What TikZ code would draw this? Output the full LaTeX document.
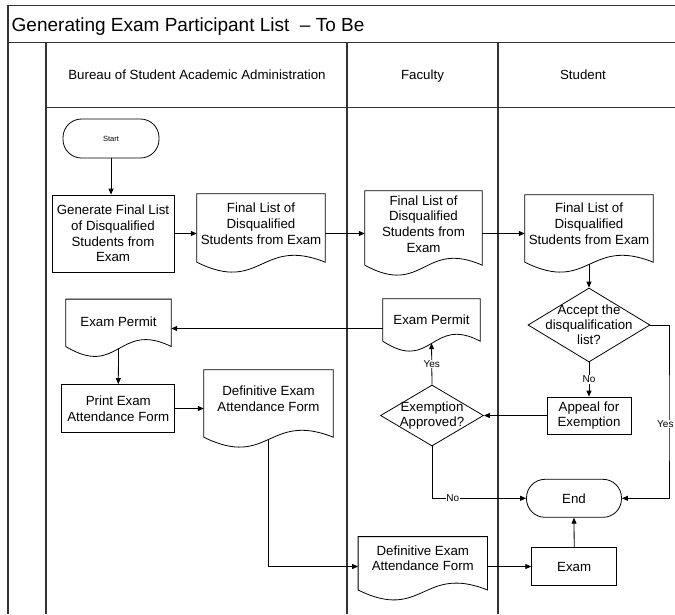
\documentclass[tikz,border=0pt]{standalone}
\usepackage{fontspec}
\setmainfont{Liberation Sans}
\usetikzlibrary{arrows.meta,shapes.geometric,calc}
\begin{document}
\begin{tikzpicture}[x=1pt,y=-1pt,
  frame/.style={line width=1.3pt, draw=black!80},
  shapeline/.style={draw=black, line width=0.8pt},
  ntext/.style={font=\fontsize{13.3}{15.8}\selectfont, align=center, inner sep=0pt},
  procbox/.style={shapeline, rectangle, inner sep=0pt, ntext},
  docbox/.style={rectangle, inner sep=0pt, draw=none},
  dia/.style={shapeline, diamond, inner sep=0pt},
  term/.style={shapeline, rectangle, rounded corners=18.5pt, inner sep=0pt},
  arr/.style={line width=0.8pt, -{Triangle[length=6pt,width=5pt]}},
  lbl/.style={font=\fontsize{10}{12}\selectfont, fill=white, inner sep=0.8pt},
  hdr/.style={font=\fontsize{13.3}{16}\selectfont, inner sep=0pt, anchor=base},
]
\useasboundingbox (0,0) rectangle (675,614);
\fill[white] (0,0) rectangle (675,614);

% frame / swimlanes
\draw[frame] (8,614) -- (8,5.7) -- (675,5.7);
\draw[frame] (8,42.7) -- (675,42.7);
\draw[frame] (46,42.7) -- (46,614);
\draw[frame] (46,107.3) -- (675,107.3);
\draw[frame] (347,42.7) -- (347,614);
\draw[frame] (498,42.7) -- (498,614);

\node[font=\fontsize{19}{22}\selectfont, anchor=base west, inner sep=0pt] (title) at (11.5,31.7) {Generating Exam Participant List\ \ – To Be};
\node[hdr] (hB) at (197,79) {Bureau of Student Academic Administration};
\node[hdr] (hF) at (422.5,79) {Faculty};
\node[hdr] (hS) at (583,79) {Student};

% nodes
\node[term, minimum width=96pt, minimum height=39pt, font=\fontsize{7.5}{9}\selectfont] (start) at (111,138.5) {Start};
\node[procbox, minimum width=122pt, minimum height=77pt] (gen) at (113,233.5) {Generate Final List\\of Disqualified\\Students from\\Exam};
\node[docbox, minimum width=128pt, minimum height=68pt, label={[ntext,name=d1T,yshift=4.5pt]center:{Final List of\\Disqualified\\Students from Exam}}] (d1) at (261,228) {};
\node[docbox, minimum width=117pt, minimum height=74pt, label={[ntext,name=d2T,yshift=4pt]center:{Final List of\\Disqualified\\Students from\\Exam}}] (d2) at (423.5,228) {};
\node[docbox, minimum width=128pt, minimum height=67pt, label={[ntext,name=d3T,yshift=4.5pt]center:{Final List of\\Disqualified\\Students from Exam}}] (d3) at (589,228.5) {};
\node[dia, minimum width=122pt, minimum height=74pt, label={[ntext,name=accT,font=\fontsize{13.3}{15}\selectfont]center:{Accept the\\disqualification\\list?}}] (acc) at (589,325) {};
\node[docbox, minimum width=97pt, minimum height=42pt, label={[ntext,name=d4T]center:{Exam Permit}}] (d4) at (431.5,320) {};
\node[docbox, minimum width=105pt, minimum height=47pt, label={[ntext,name=d5T,yshift=1pt]center:{Exam Permit}}] (d5) at (118.5,322.8) {};
\node[procbox, minimum width=113pt, minimum height=48pt] (print) at (118.3,408.5) {Print Exam\\Attendance Form};
\node[docbox, minimum width=129pt, minimum height=67pt, label={[ntext,name=d6T,yshift=4.5pt]center:{Definitive Exam\\Attendance Form}}] (d6) at (268.5,403.5) {};
\node[procbox, minimum width=84pt, minimum height=37pt] (appeal) at (589,415.5) {Appeal for\\Exemption};
\node[dia, minimum width=103pt, minimum height=61pt, label={[ntext,name=exmT]center:{Exemption\\Approved?}}] (exm) at (432,415.5) {};
\node[term, minimum width=95pt, minimum height=38pt, ntext] (end) at (574,498.3) {End};
\node[docbox, minimum width=129pt, minimum height=53pt, label={[ntext,name=d7T,yshift=5pt]center:{Definitive Exam\\Attendance Form}}] (d7) at (422.8,563.3) {};
\node[procbox, minimum width=85pt, minimum height=38pt] (exam) at (574.2,566.5) {Exam};

% document outlines
\foreach \n in {d1,d2,d3,d4,d5,d6,d7}
  \draw[shapeline] (\n.north west) -- (\n.north east) -- (\n.south east)
    .. controls ($(\n.south)+(0,-26)$) and ($(\n.south)+(0,32)$) .. (\n.south west) -- cycle;

% connectors
\draw[arr] (start.south) -- (start.south |- gen.north);
\draw[arr] (gen.east) -- (gen.east -| d1.west);
\draw[arr] (gen.east -| d1.east) -- (gen.east -| d2.west);
\draw[arr] (gen.east -| d2.east) -- (gen.east -| d3.west);
\draw[arr] ($(d3.south)+(0,2)$) -- (acc.north);
\draw[arr] (acc.south) -- node[lbl] (noA) {No} (appeal.north);
\draw[arr] (appeal.west) -- (exm.east);
\draw[arr] (exm.north) -- node[lbl] (yesA) {Yes} ($(d4.south)+(0,2)$);
\coordinate (epY) at ($(d4.west)+(0,8.5)$);
\draw[arr] (epY) -- (epY -| d5.east);
\draw[arr] ($(d5.south)+(0,2)$) -- (print.north);
\draw[arr] (print.east) -- (print.east -| d6.west);
\draw[arr] ($(d6.south)+(0,2)$) |- (d7.west |- exam);
\draw[arr] (d7.east |- exam) -- (exam.west);
\draw[arr] (exam.north) -- (end.south);
\draw[arr] (exm.south) |- node[lbl,pos=0.61] (noB) {No} (end.west);
\coordinate (rt) at (669,424);
\draw[arr] (acc.east) -| (rt) |- (end.east);
\node[lbl, anchor=east] (yesB) at (674.5,424) {Yes};
\end{tikzpicture}
\end{document}
